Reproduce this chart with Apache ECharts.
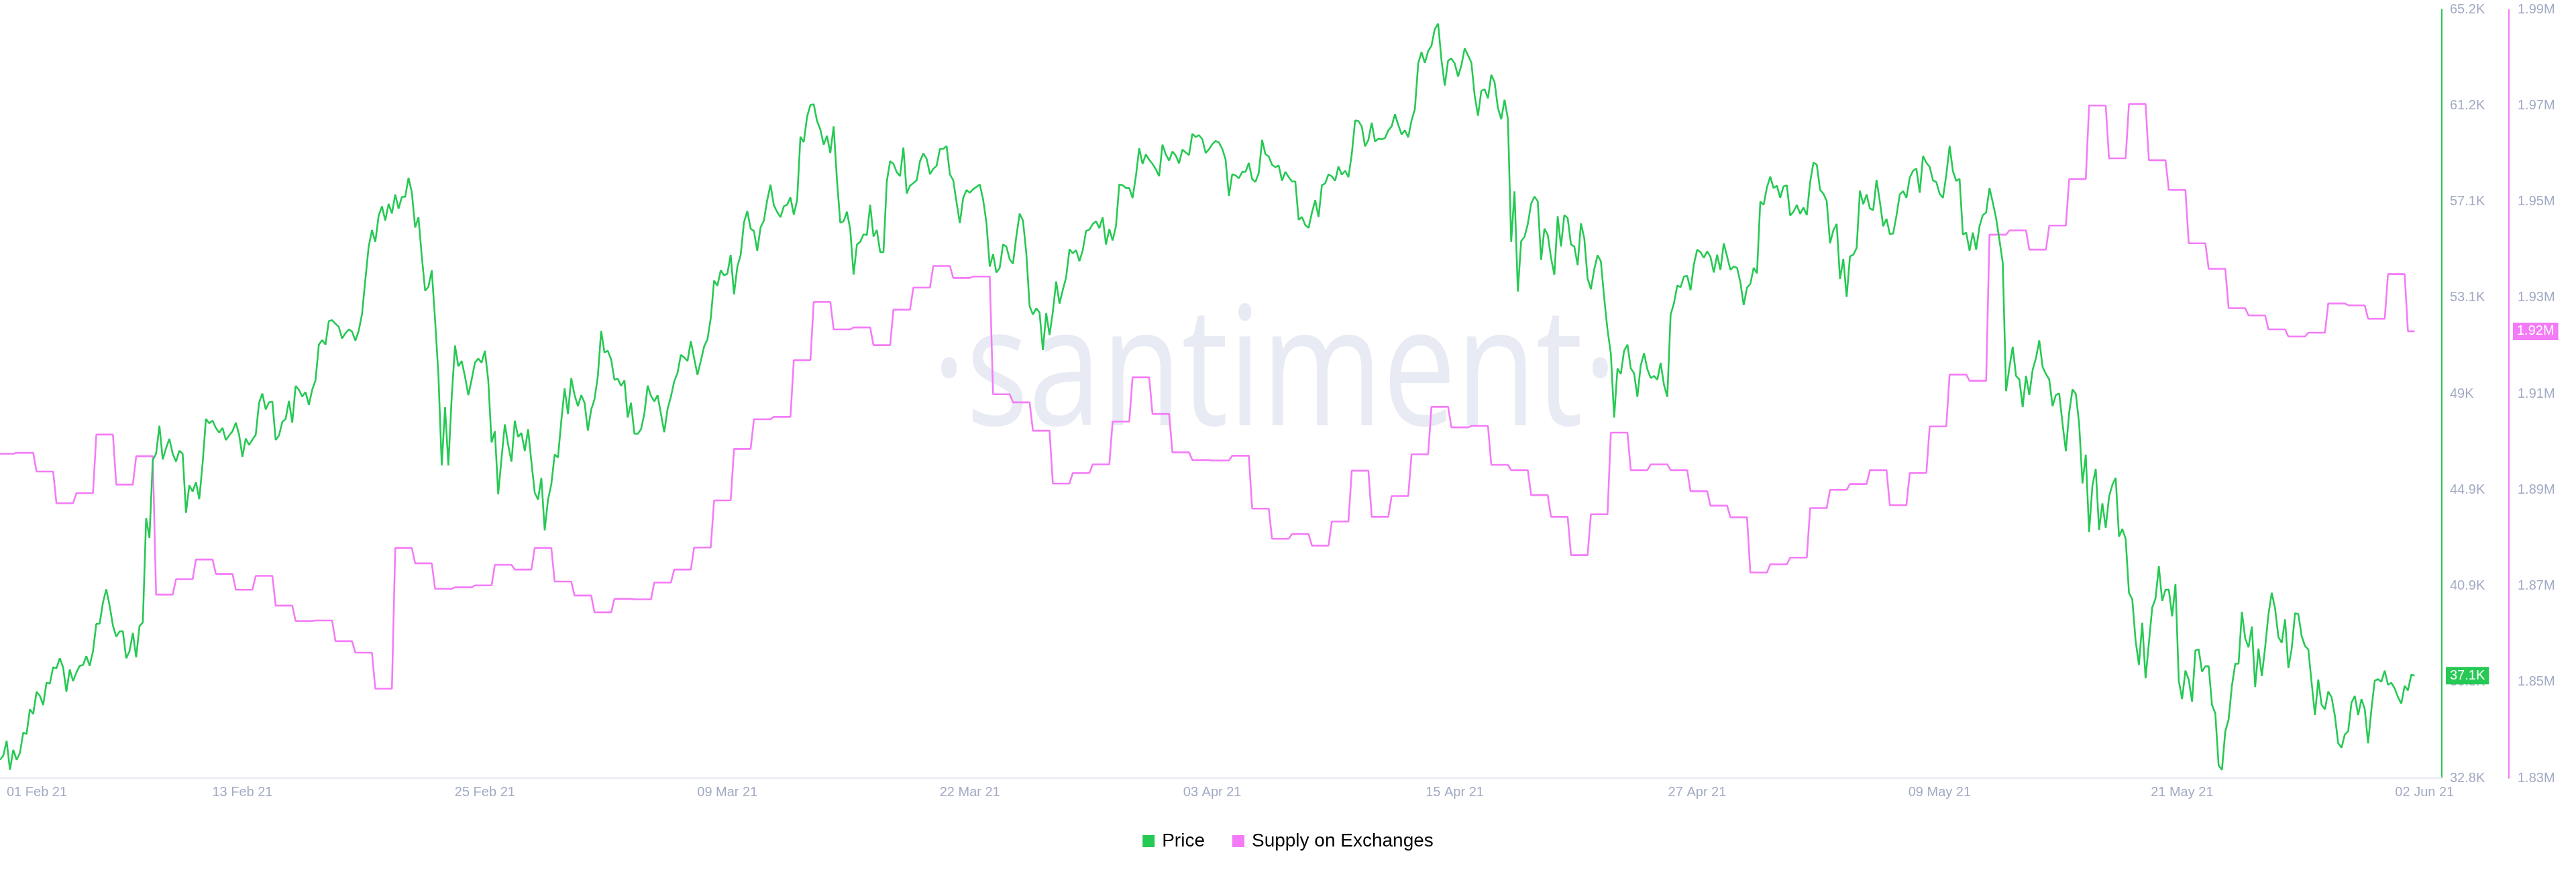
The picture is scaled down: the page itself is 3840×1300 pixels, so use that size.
<!DOCTYPE html>
<html>
<head>
<meta charset="utf-8">
<script src="https://cdn.jsdelivr.net/npm/echarts@6/dist/echarts.min.js"></script>
<style>html,body{margin:0;padding:0;background:#fff}#c{width:3840px;height:1300px}</style>
</head>
<body>
<div id="c"></div>
<script>
// ---- data ----
const stepHours = 4;          // price sampled every 4 hours, first point 01 Feb 21 04:00
const firstDayPoints = 5;     // samples before the first full day of supply data
const tickEveryHours = 292;   // x label spacing (hours)
const xTickLabels = ['01 Feb 21','13 Feb 21','25 Feb 21','09 Mar 21','22 Mar 21','03 Apr 21','15 Apr 21','27 Apr 21','09 May 21','21 May 21','02 Jun 21'];
const priceTickValues = [32800, 36850, 40900, 44950, 49000, 53050, 57100, 61150, 65200];
const priceTickLabels = ['32.8K','36.8K','40.9K','44.9K','49K','53.1K','57.1K','61.2K','65.2K'];
const supplyTickValues = [1830000, 1850000, 1870000, 1890000, 1910000, 1930000, 1950000, 1970000, 1990000];
const supplyTickLabels = ['1.83M','1.85M','1.87M','1.89M','1.91M','1.93M','1.95M','1.97M','1.99M'];

const price = [
33570,33750,34370,33150,33990,33570,33860,34720,34660,35700,
35500,36440,36270,35880,36820,36780,37470,37430,37850,37470,
36440,37380,36890,37250,37530,37570,37940,37530,38150,39300,
39310,40200,40760,40070,39230,38760,38980,38990,37850,38150,
38920,37890,39210,39360,43760,42920,46210,46470,47650,46230,
46710,47100,46470,46140,46600,46470,43980,45140,44880,45270,
44560,46070,47940,47760,47870,47560,47360,47560,47050,47240,
47420,47780,47270,46340,47110,46840,47070,47270,48620,49010,
48340,48640,48670,47050,47240,47810,47940,48700,47780,49330,
49170,48880,49070,48530,49170,49570,51070,51260,51070,52060,
52100,51950,51820,51330,51550,51710,51620,51240,51650,52360,
53800,55200,55900,55400,56500,56900,56300,57000,56600,57400,56800,
57300,57300,58100,57480,56010,56440,54780,53340,53510,54200,
52110,49800,45980,48430,45980,48870,51030,50160,50380,49730,
48940,49590,50310,50480,50310,50810,49590,46950,47420,44760,
46270,47710,46850,46130,47860,47180,47350,46590,47500,46130,
44830,44540,45450,43240,44540,45190,46440,46310,47860,49230,
48150,49660,48940,48480,48940,48620,47450,48330,48770,49730,
51650,50740,50810,50450,49590,49630,49330,49560,48000,48620,
47320,47310,47500,48150,49340,48910,48680,48940,48150,47380,
48360,48870,49520,49880,50640,50530,50380,51220,50500,49800,
50380,50990,51290,52180,53770,53550,54200,53990,54060,54850,
53190,54350,54850,56220,56700,55960,55860,55030,56010,56300,
57160,57810,56940,56660,56440,56900,56970,57280,56550,57160,
59830,59610,60680,61170,61200,60500,60130,59500,59870,59150,
60270,58000,56210,56270,56670,55920,54020,55290,55400,55720,
55690,56960,55630,55900,54970,54970,57940,58800,58690,58340,
58170,59380,57440,57770,57880,58000,58800,59130,58900,58250,
58480,58610,59320,59320,59440,58250,58000,57070,56190,57250,
57590,57470,57620,57720,57820,57190,56210,54360,54880,54110,
54300,55290,55200,54670,54480,55630,56590,56300,54940,52690,
52340,52600,52420,50840,52400,51480,52460,53730,52800,53380,
53900,55090,54920,55050,54590,55050,55860,55920,56150,56270,
55980,56440,55290,55940,55460,56070,57820,57790,57670,57670,
57250,58170,59350,58690,59090,58860,58690,58460,58170,59500,
59090,58830,59210,59040,58710,59290,59170,59060,59960,59820,
59900,59730,59150,59300,59520,59650,59590,59320,58880,57340,
58250,58200,58080,58350,58350,58730,58050,57930,58310,59700,
59100,59000,58650,58550,58620,57980,58350,58130,57950,57950,
56330,56450,56110,55990,56630,57160,56450,57790,57870,58250,
58160,57980,58580,58230,58400,58130,59100,60520,60490,60270,
59430,59700,60420,59630,59750,59720,59780,60100,60270,60780,
60330,59930,60100,59810,60520,61000,62920,63400,62950,63440,
63670,64370,64600,63070,61990,63040,63130,62920,62370,62840,
63560,63260,62960,61570,60720,61770,61830,61450,62440,62130,
61050,60570,61390,60600,55400,57530,53310,55440,55610,56150,
57010,57310,57110,54640,55960,55700,54720,54010,56480,55210,
56530,56410,55290,55210,54420,56180,55560,53860,53410,54240,
54840,54580,53040,51690,50700,48000,50060,49830,50820,51070,
50070,49860,48870,50200,50710,50030,49660,49750,49590,50300,
49380,48870,52330,52810,53560,53490,53940,53970,53360,54450,
55070,54970,54730,55000,54770,54110,54860,54220,55340,54790,
54220,54360,54310,53700,52740,53470,53630,54310,54080,57100,
56960,57700,58150,57670,57770,57260,57740,57780,56510,56670,
56960,56580,56850,56530,57920,58740,58660,57600,57430,57120,
55340,55890,56160,53840,54680,53080,54790,54860,55140,57560,
56990,57400,56810,56740,58010,57100,56060,56370,55730,55750,
56510,57400,57540,57260,58110,58400,58490,57470,59020,58740,
58560,57990,57920,57430,57260,58220,59450,58380,57970,58060,
55710,55790,55030,55790,55070,56060,56530,56640,57670,57060,
56400,55480,54520,49110,50110,50980,49750,49600,48440,49750,
48950,50010,50500,51250,50130,49830,49600,48480,48950,49010,
47740,46580,48200,49180,48990,47740,45220,46430,43170,45130,
45830,43260,44380,43350,44660,45160,45460,42980,43300,42890,
40610,40330,38590,37570,39340,37010,38500,39990,40370,41730,
40270,40740,40740,39620,40980,36910,36130,37330,36950,36020,
38180,38220,37290,37510,37510,35890,35520,33330,33150,34770,
35270,36690,37620,37620,39810,38690,38310,39190,36640,38260,
37100,38310,39710,40610,39940,38740,38500,39490,37440,38260,
39750,39710,38780,38370,38220,36820,35460,36950,35890,35700,
36450,36210,35420,34270,34080,34640,34770,35980,36260,35460,
36130,35700,34270,35700,36910,36970,36860,37330,36730,36820,
36580,36210,35940,36690,36500,37150,37120
];

const supplyDaily = [
1897500,1897700,1893800,1887200,1889300,1901500,1891100,1897000,1868200,1871400,
1875500,1872500,1869200,1872100,1865900,1862700,1862800,1858500,1856100,1848600,
1877900,1874700,1869400,1869700,1870100,1874400,1873400,1877900,1870900,1868000,
1864500,1867300,1867200,1870700,1873400,1878000,1887800,1898500,1904700,1905200,
1917000,1929100,1923400,1923800,1920100,1927500,1932100,1936600,1934100,1934400,
1909900,1908200,1902300,1891300,1893500,1895300,1904200,1913400,1905800,1897800,
1896200,1896100,1897100,1886100,1879800,1880800,1878400,1883400,1894000,1884400,
1888700,1897400,1907300,1903000,1903300,1895200,1894100,1888900,1884400,1876400,
1884900,1901900,1894100,1895300,1894100,1889700,1886700,1884300,1872800,1874500,
1875900,1886200,1890000,1891200,1894100,1886800,1893500,1903200,1914000,1912700,
1943100,1944000,1940000,1945000,1954700,1970000,1959000,1970300,1958600,1952400,
1941300,1936000,1927800,1926300,1923400,1921900,1922700,1928800,1928400,1925600,
1934900,1923000
];

// ---- build series tables ----
const priceData = price.map((v, i) => [i * stepHours, v]);
const supplyData = price.map((_, i) => {
  const d = i < firstDayPoints ? 0 : Math.floor((i - firstDayPoints) / 6) + 1;
  return [i * stepHours, supplyDaily[Math.min(d, supplyDaily.length - 1)]];
});
const lastPrice = price[price.length - 1];
const lastSupply = supplyDaily[supplyDaily.length - 1];

const GREEN = '#26c953', PINK = '#f47bf7', LABEL = '#a2aac4';
const FONT = '"Liberation Sans", Arial, sans-serif';

function nearestLabel(values, labels, v) {
  let best = 0;
  for (let i = 1; i < values.length; i++) if (Math.abs(values[i] - v) < Math.abs(values[best] - v)) best = i;
  return labels[best];
}

const chart = echarts.init(document.getElementById('c'), null, {renderer: 'canvas'});
chart.setOption({
  animation: false,
  backgroundColor: '#fff',
  grid: {left: 0, right: 200, top: 14, bottom: 140},
  graphic: [{
    type: 'text', x: 1900, y: 564, scaleX: 0.79, z: -10, silent: true,
    style: {text: '\u00b7santiment\u00b7', font: '247px "Open Sans"', fill: '#e8ebf4',
      textAlign: 'center', textVerticalAlign: 'middle', align: 'center', verticalAlign: 'middle'}
  }],
  legend: {
    data: ['Price', 'Supply on Exchanges'], left: 'center', top: 1235,
    icon: 'rect', itemWidth: 18, itemHeight: 18, itemGap: 41,
    textStyle: {fontSize: 28, color: '#000', fontFamily: FONT, padding: [0, 0, 0, 6]}
  },
  xAxis: {
    type: 'value', min: 0, max: 2940.8, interval: tickEveryHours,
    axisLine: {show: true, onZero: false, lineStyle: {color: '#e6eaf2', width: 2}},
    axisTick: {show: false}, splitLine: {show: false},
    axisLabel: {
      color: LABEL, fontSize: 20, fontFamily: FONT, margin: 11, alignMinLabel: 'left',
      formatter: v => {
        const idx = Math.round(v / tickEveryHours);
        const t = xTickLabels[idx] || '';
        return idx === 0 ? '{first|' + t + '}' : t;
      },
      rich: {first: {padding: [0, 0, 0, 10], color: LABEL, fontSize: 20, fontFamily: FONT}}
    }
  },
  yAxis: [{
    type: 'value', position: 'right', min: 32800, max: 65200,
    axisLine: {show: true, onZero: false, lineStyle: {color: GREEN, width: 2}},
    axisTick: {show: false}, splitLine: {show: false},
    axisLabel: {color: LABEL, fontSize: 20, fontFamily: FONT, margin: 12,
      customValues: priceTickValues,
      formatter: v => nearestLabel(priceTickValues, priceTickLabels, v)},
    axisPointer: {
      show: true, status: 'show', value: lastPrice, snap: false, triggerTooltip: false,
      type: 'line', lineStyle: {color: 'rgba(0,0,0,0)', width: 0},
      label: {show: true, formatter: p => (p.value / 1000).toFixed(1) + 'K',
        backgroundColor: GREEN, color: '#fff', fontSize: 20, fontFamily: FONT,
        padding: [3, 6, 3, 6], margin: 6, borderRadius: 0},
      handle: {show: false}
    }
  }, {
    type: 'value', position: 'right', offset: 100, min: 1830000, max: 1990000,
    axisLine: {show: true, onZero: false, lineStyle: {color: PINK, width: 2}},
    axisTick: {show: false}, splitLine: {show: false},
    axisLabel: {color: LABEL, fontSize: 20, fontFamily: FONT, margin: 13,
      customValues: supplyTickValues,
      formatter: v => nearestLabel(supplyTickValues, supplyTickLabels, v)},
    axisPointer: {
      show: true, status: 'show', value: lastSupply, snap: false, triggerTooltip: false,
      type: 'line', lineStyle: {color: 'rgba(0,0,0,0)', width: 0},
      label: {show: true, formatter: p => (p.value / 1e6).toFixed(2) + 'M',
        backgroundColor: PINK, color: '#fff', fontSize: 20, fontFamily: FONT,
        padding: [3, 6, 3, 6], margin: 6, borderRadius: 0},
      handle: {show: false}
    }
  }],
  series: [{
    name: 'Price', type: 'line', yAxisIndex: 0, data: priceData,
    showSymbol: false, symbol: 'none', z: 3,
    lineStyle: {width: 2.6, color: GREEN}, itemStyle: {color: GREEN}
  }, {
    name: 'Supply on Exchanges', type: 'line', yAxisIndex: 1, data: supplyData,
    showSymbol: false, symbol: 'none', z: 2,
    lineStyle: {width: 2.6, color: PINK}, itemStyle: {color: PINK}
  }]
});
</script>
</body>
</html>
